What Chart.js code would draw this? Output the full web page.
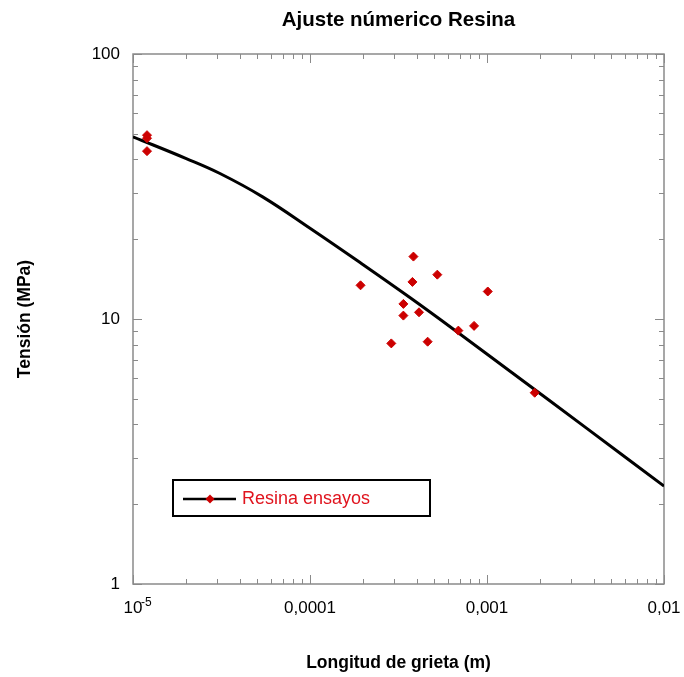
<!DOCTYPE html>
<html>
<head>
<meta charset="utf-8">
<script src="https://cdn.jsdelivr.net/npm/chart.js@4.4.0/dist/chart.umd.min.js"></script>
<style>
    html, body { margin: 0; padding: 0; background: #fff; }
    #wrap { width: 684px; height: 677px; }
</style>
</head>
<body>
<div id="wrap"><canvas id="chart"></canvas></div>
<script>
// Ensayos (puntos rojos)
const testX = [1.2e-5, 1.2e-5, 1.2e-5, 1.93e-4, 2.88e-4, 3.37e-4, 3.37e-4, 3.79e-4, 3.84e-4, 4.13e-4, 4.62e-4, 5.24e-4, 6.89e-4, 8.45e-4, 1.01e-3, 1.86e-3];
const testY = [49.4, 48.1, 43.0, 13.4, 8.09, 11.4, 10.3, 13.8, 17.2, 10.6, 8.21, 14.7, 9.04, 9.42, 12.7, 5.27];

// Ajuste numerico (curva negra)
const curveX = [1e-5, 2e-5, 3.1e-5, 5.4e-5, 1e-4, 1.9e-4, 3.7e-4, 7.0e-4, 1.35e-3, 3.6e-3, 1e-2];
const curveY = [48.7, 40.3, 35.4, 28.9, 22.0, 16.4, 12.0, 8.8, 6.35, 3.9, 2.34];

// Ticks
const xTickValues = [1e-5, 1e-4, 1e-3, 1e-2];
const xTickLabels = ["10", "0,0001", "0,001", "0,01"];
const yTickValues = [1, 10, 100];
const yTickLabels = ["1", "10", "100"];

const FONT = "Arial, 'Liberation Sans', sans-serif";

// frame, inward minor/major ticks, the 10^-5 exponent and the legend box
const framePlugin = {
    id: "frame",
    beforeDatasetsDraw(chart) {
        const { ctx, chartArea: a, scales: { x, y } } = chart;
        ctx.save();
        ctx.strokeStyle = "#8a8a8a";
        ctx.lineWidth = 1;
        for (let d = 1e-5; d < 1e-2; d *= 10) {
            for (let k = 1; k <= 10; k++) {
                const px = Math.round(x.getPixelForValue(d * k)) + 0.5;
                const len = (k === 1 || k === 10) ? 9 : 5;
                ctx.beginPath();
                ctx.moveTo(px, a.bottom); ctx.lineTo(px, a.bottom - len);
                ctx.moveTo(px, a.top); ctx.lineTo(px, a.top + len);
                ctx.stroke();
            }
        }
        for (let d = 1; d < 100; d *= 10) {
            for (let k = 1; k <= 10; k++) {
                const py = Math.round(y.getPixelForValue(d * k)) + 0.5;
                const len = (k === 1 || k === 10) ? 9 : 5;
                ctx.beginPath();
                ctx.moveTo(a.left, py); ctx.lineTo(a.left + len, py);
                ctx.moveTo(a.right, py); ctx.lineTo(a.right - len, py);
                ctx.stroke();
            }
        }
        ctx.lineWidth = 1.5;
        ctx.strokeRect(a.left, a.top, a.right - a.left, a.bottom - a.top);
        ctx.restore();
    },
    afterDraw(chart) {
        const { ctx, chartArea: a, scales: { x } } = chart;
        ctx.save();
        // exponent of 10^-5
        ctx.font = "12px " + FONT;
        ctx.fillStyle = "#000";
        ctx.textBaseline = "middle";
        ctx.textAlign = "left";
        ctx.fillText("-5", x.getPixelForValue(1e-5) + 8, a.bottom + 19);

        // legend
        const lx = a.left + 40, ly = a.bottom - 104, lw = 257, lh = 36;
        ctx.strokeStyle = "#000";
        ctx.lineWidth = 2;
        ctx.strokeRect(lx, ly, lw, lh);
        const cy = ly + lh / 2 + 1;
        ctx.lineWidth = 2.5;
        ctx.beginPath();
        ctx.moveTo(lx + 10, cy);
        ctx.lineTo(lx + 63, cy);
        ctx.stroke();
        ctx.fillStyle = "#cc0000";
        ctx.beginPath();
        ctx.moveTo(lx + 37, cy - 4.5);
        ctx.lineTo(lx + 41.5, cy);
        ctx.lineTo(lx + 37, cy + 4.5);
        ctx.lineTo(lx + 32.5, cy);
        ctx.closePath();
        ctx.fill();
        ctx.fillStyle = "#e0141e";
        ctx.font = "18px " + FONT;
        ctx.fillText("Resina ensayos", lx + 69, cy);
        ctx.restore();
    }
};

const ctx = document.getElementById("chart").getContext("2d");
new Chart(ctx, {
    type: "scatter",
    data: {
        datasets: [
            {
                label: "Resina ensayos",
                data: testX.map((v, i) => ({ x: v, y: testY[i] })),
                showLine: false,
                pointStyle: "rectRot",
                pointRadius: 4.5,
                pointBackgroundColor: "#cc0000",
                pointBorderColor: "#cc0000",
                pointBorderWidth: 1
            },
            {
                label: "Ajuste",
                data: curveX.map((v, i) => ({ x: v, y: curveY[i] })),
                showLine: true,
                borderColor: "#000",
                borderWidth: 3,
                pointRadius: 0,
                tension: 0.4,
                fill: false
            }
        ]
    },
    options: {
        responsive: true,
        maintainAspectRatio: false,
        animation: false,
        events: [],
        layout: { padding: { left: 0, right: 20, top: 0, bottom: 0 } },
        plugins: {
            legend: { display: false },
            tooltip: { enabled: false },
            title: {
                display: true,
                text: "Ajuste númerico Resina",
                fullSize: false,
                color: "#000",
                font: { family: FONT, size: 20.5, weight: "bold", lineHeight: 1.2 },
                padding: { top: 8, bottom: 21.4 }
            }
        },
        scales: {
            x: {
                type: "logarithmic",
                min: 1e-5,
                max: 1e-2,
                grid: { display: false, drawTicks: false },
                border: { display: false },
                afterBuildTicks: (s) => { s.ticks = xTickValues.map(v => ({ value: v })); },
                afterFit: (s) => { s.height = 93; s.paddingLeft = 0; s.paddingRight = 0; },
                ticks: {
                    autoSkip: false,
                    maxRotation: 0,
                    padding: 14,
                    color: "#000",
                    font: { family: FONT, size: 17 },
                    callback: (v) => xTickLabels[xTickValues.indexOf(v)]
                },
                title: {
                    display: true,
                    text: "Longitud de grieta (m)",
                    color: "#000",
                    font: { family: FONT, size: 17.5, weight: "bold", lineHeight: 1.2 },
                    padding: { top: 0, bottom: 3.5 }
                }
            },
            y: {
                type: "logarithmic",
                min: 1,
                max: 100,
                grid: { display: false, drawTicks: false },
                border: { display: false },
                afterBuildTicks: (s) => { s.ticks = yTickValues.map(v => ({ value: v })); },
                afterFit: (s) => { s.width = 133; s.paddingTop = 0; s.paddingBottom = 0; },
                ticks: {
                    autoSkip: false,
                    padding: 13,
                    color: "#000",
                    font: { family: FONT, size: 17 },
                    callback: (v) => yTickLabels[yTickValues.indexOf(v)]
                },
                title: {
                    display: true,
                    text: "Tensión (MPa)",
                    color: "#000",
                    font: { family: FONT, size: 17.5, weight: "bold", lineHeight: 1.2 },
                    padding: { top: 15, bottom: 0 }
                }
            }
        }
    },
    plugins: [framePlugin]
});
</script>
</body>
</html>
